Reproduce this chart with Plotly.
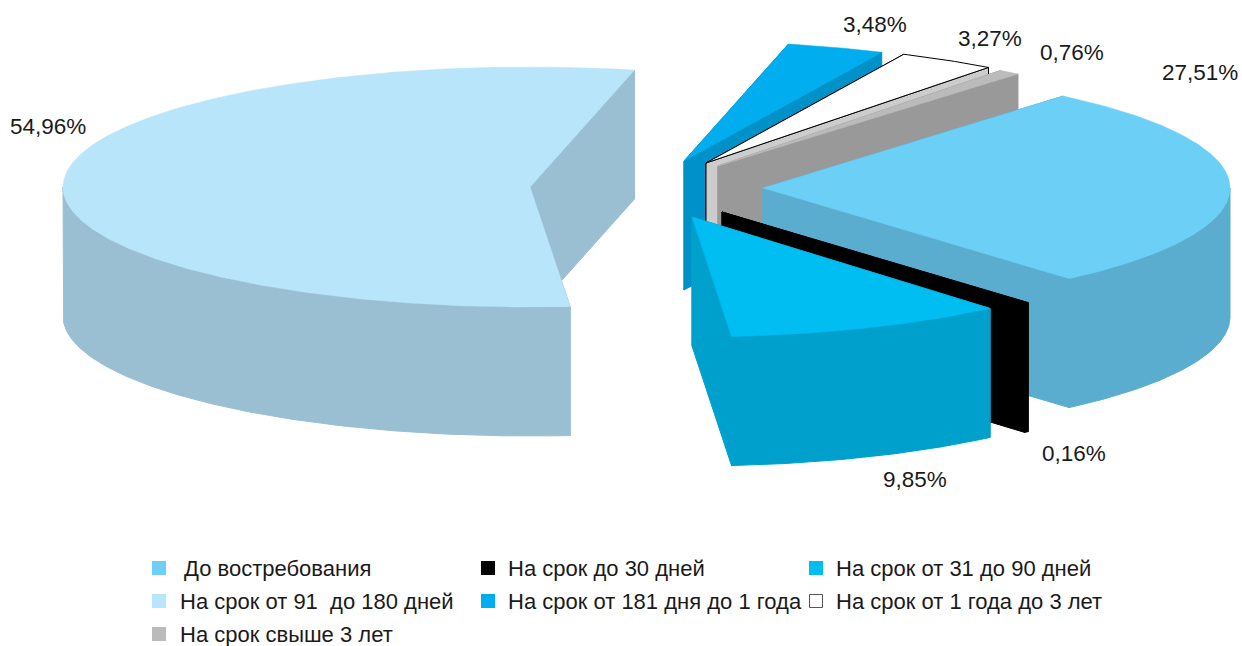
import math
import plotly.graph_objects as go

categories = ["До востребования", "На срок до 30 дней", "На срок от 31 до 90 дней",
              "На срок от 91\u00a0 до 180 дней", "На срок от 181 дня до 1 года",
              "На срок от 1 года до 3 лет", "На срок свыше 3 лет"]
values = [27.51, 0.16, 9.85, 54.96, 3.48, 3.27, 0.76]
top_colors = ["#6CCFF6", "#000000", "#00BDF2", "#B9E5FB", "#00AEEF", "#FFFFFF", "#BBBBBB"]
wall_colors = ["#5AADCE", "#000000", "#00A0CC", "#9BBFD2", "#0091C8", "#CCCCCC", "#999999"]

# exploded slice apex positions (pixels in chart space)
apex_x = [763, 722, 692, 530, 684, 706, 718]
apex_y = [188, 212, 217, 187, 161, 163, 166]
radius_x = [467, 467, 460, 467, 467, 467, 467]
radius_y = 120
depth = 129
start_angle = 50.0
boundary_nudge = [0, 0, 0, 0, 0.4, 0, 0]  # perspective correction at a slice's end
draw_order = [4, 5, 6, 0, 1, 2, 3]

label_x = [1200, 1074, 915, 48, 875, 990, 1072]
label_y = [72, 453, 479, 126, 24, 38, 52]

legend_x = [159, 488, 816, 159, 488, 816, 159]
legend_y = [568, 568, 568, 601, 601, 601, 634]
legend_text_x = [182, 506, 834, 178, 506, 834, 178]

fig = go.Figure()


def poly(xs, ys, fill, line_color=None, width=0):
    fig.add_trace(go.Scatter(
        x=xs + xs[:1], y=ys + ys[:1], mode="lines", fill="toself", fillcolor=fill,
        line=dict(color=line_color or fill, width=width), hoverinfo="skip", showlegend=False))


angles = []
a = start_angle
carry = 0
for v, nudge in zip(values, boundary_nudge):
    b = a - v * 3.6
    angles.append((a + carry, b + nudge))
    carry = nudge
    a = b

for i in draw_order:
    a0, a1 = angles[i]
    cx, cy, rx = apex_x[i], apex_y[i], radius_x[i]
    n = max(4, int(abs(a1 - a0)) * 2)
    ts = [a0 + (a1 - a0) * k / n for k in range(n + 1)]
    arc_x = [cx + rx * math.cos(math.radians(t)) for t in ts]
    arc_y = [cy - radius_y * math.sin(math.radians(t)) for t in ts]
    outlined = top_colors[i] == "#FFFFFF"
    lc = "#000000" if outlined else None
    lw = 1
    # radial walls
    for ex, ey in ((arc_x[0], arc_y[0]), (arc_x[-1], arc_y[-1])):
        poly([cx, ex, ex, cx], [cy, ey, ey + depth, cy + depth], wall_colors[i], lc, lw)
    # front rim wall
    fx = [x for x, t in zip(arc_x, ts) if math.sin(math.radians(t)) <= 0]
    fy = [y for y, t in zip(arc_y, ts) if math.sin(math.radians(t)) <= 0]
    if len(fx) > 1:
        poly(fx + fx[::-1], fy + [y + depth for y in fy[::-1]], wall_colors[i], None, 1)
    # top face
    poly([cx] + arc_x, [cy] + arc_y, top_colors[i], lc, 1 if outlined else 0.5)

annotations = []
for v, x, y in zip(values, label_x, label_y):
    annotations.append(dict(x=x, y=y, text=f"{v:.2f}".replace(".", ",") + "%", showarrow=False,
                            xanchor="center", yanchor="middle",
                            font=dict(family="Liberation Sans", size=22.5, color="#1a1a1a")))

for i, c in enumerate(categories):
    white = top_colors[i] == "#FFFFFF"
    fig.add_trace(go.Scatter(
        x=[legend_x[i]], y=[legend_y[i]], mode="markers", name=c, showlegend=False, hoverinfo="skip",
        marker=dict(symbol="square", size=13 if white else 14, color=top_colors[i],
                    line=dict(color="#555555" if white else top_colors[i], width=1 if white else 0))))
    annotations.append(dict(x=legend_text_x[i], y=legend_y[i], text=c, showarrow=False,
                            xanchor="left", yanchor="middle",
                            font=dict(family="Liberation Sans", size=22, color="#1a1a1a")))

fig.update_layout(
    width=1242, height=646, margin=dict(l=0, r=0, t=0, b=0),
    paper_bgcolor="white", plot_bgcolor="white", showlegend=False,
    xaxis=dict(range=[0, 1242], visible=False, fixedrange=True),
    yaxis=dict(range=[646, 0], visible=False, fixedrange=True),
    annotations=annotations,
)
fig.write_html("out.html", post_script="document.body.style.margin='0';document.body.style.overflow='hidden';",
               config={"displayModeBar": False})
